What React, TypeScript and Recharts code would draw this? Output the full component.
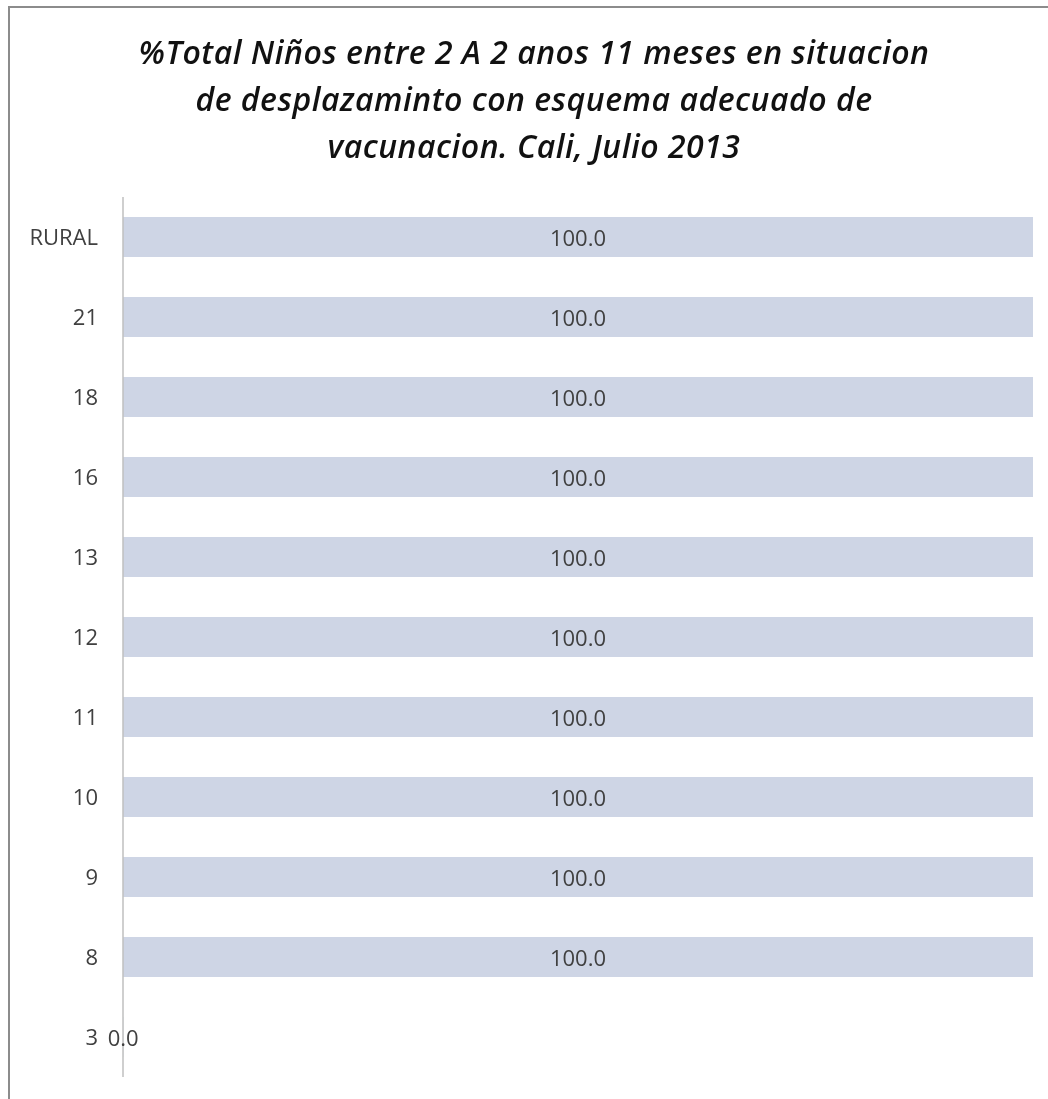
import React from "react";
import { BarChart, Bar, XAxis, YAxis, LabelList } from "recharts";

const categories = ["RURAL", "21", "18", "16", "13", "12", "11", "10", "9", "8", "3"];
const values = [100, 100, 100, 100, 100, 100, 100, 100, 100, 100, 0];
const titleLines = [
  "%Total Niños entre 2 A 2 anos 11 meses en situacion",
  "de desplazaminto con esquema adecuado de",
  "vacunacion. Cali, Julio 2013",
];

const data = categories.map((name, i) => ({ name, value: values[i] }));

const FONT = "'Open Sans', sans-serif";

const renderLabel = (props: any) => {
  const { x, y, width, height, value } = props;
  return (
    <text
      x={Number(x) + Number(width) / 2}
      y={Number(y) + Number(height) / 2}
      textAnchor="middle"
      dominantBaseline="central"
      fill="#404040"
      fontSize={22}
      fontFamily={FONT}
    >
      {Number(value).toFixed(1)}
    </text>
  );
};

export default function App() {
  return (
    <div
      style={{
        position: "relative",
        width: 1032,
        height: 1083,
      }}
    >
      <div
        style={{
          position: "fixed",
          left: 8,
          top: 6,
          right: -20,
          bottom: -20,
          borderLeft: "2px solid #8c8c8c",
          borderTop: "2px solid #8c8c8c",
          pointerEvents: "none",
        }}
      />
      <div
        style={{
          position: "absolute",
          left: 0,
          top: 20,
          width: 1052,
          textAlign: "center",
          fontFamily: FONT,
          fontStyle: "italic",
          fontWeight: 600,
          fontSize: 32,
          lineHeight: "47px",
          color: "#111",
          letterSpacing: 0.5,
          whiteSpace: "nowrap",
        }}
      >
        {titleLines.map((t, i) => (
          <div key={i}>{t}</div>
        ))}
      </div>
      <div style={{ position: "absolute", left: 2, top: 0 }}>
        <BarChart
          width={1030}
          height={1081}
          layout="vertical"
          data={data}
          margin={{ top: 189, right: 7, bottom: 12, left: 0 }}
          barCategoryGap={0}
        >
          <XAxis type="number" domain={[0, 100]} hide />
          <YAxis
            type="category"
            dataKey="name"
            width={113}
            tickLine={false}
            tickSize={0}
            tickMargin={25}
            axisLine={{ stroke: "#bfbfbf", strokeWidth: 1.5 }}
            tick={{ fill: "#404040", fontSize: 22, fontFamily: FONT }}
            interval={0}
          />
          <Bar
            dataKey="value"
            fill="#CED5E5"
            barSize={40}
            minPointSize={0.3}
            isAnimationActive={false}
          >
            <LabelList dataKey="value" content={renderLabel} />
          </Bar>
        </BarChart>
      </div>
    </div>
  );
}
